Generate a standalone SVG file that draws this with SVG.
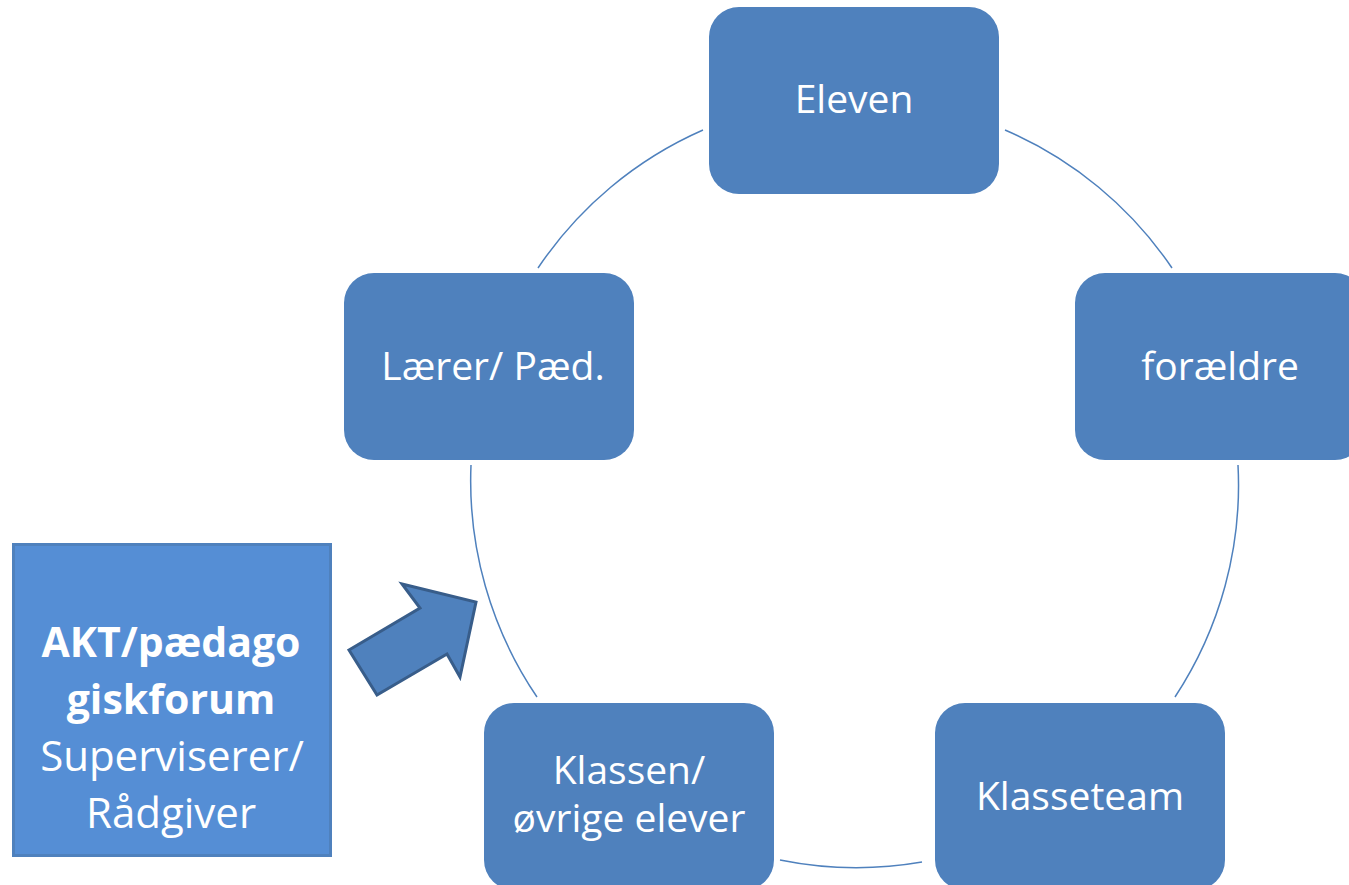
<svg xmlns="http://www.w3.org/2000/svg" width="1349" height="885" viewBox="0 0 1349 885">
<defs>
<style>
.node rect{fill:#4f81bd;}
.lbl{font-family:"Open Sans","Liberation Sans",sans-serif;font-size:39px;fill:#ffffff;text-anchor:middle;}
.arc{fill:none;stroke:#4f81bd;stroke-width:1.5;}
.akt{font-family:"Open Sans","Liberation Sans",sans-serif;font-size:42px;fill:#ffffff;text-anchor:middle;}
.aktb{font-size:41px;font-weight:bold;}
</style>
</defs>
<rect width="1349" height="885" fill="#ffffff"/>
<g id="connectors">
<path class="arc" d="M538,268 A385,385 0 0 1 703,130"/>
<path class="arc" d="M1005,130 A385,385 0 0 1 1172,268"/>
<path class="arc" d="M1238,465 A385,385 0 0 1 1175,697"/>
<path class="arc" d="M922,862 A385,385 0 0 1 780,860"/>
<path class="arc" d="M537,697 A385,385 0 0 1 471,465"/>
</g>
<g id="node-eleven" class="node">
<rect x="709" y="7" width="290" height="187" rx="30"/>
<text class="lbl" x="854" y="113">Eleven</text>
</g>
<g id="node-laerer" class="node">
<rect x="344" y="273" width="290" height="187" rx="30"/>
<text class="lbl" x="493" y="380">Lærer/ Pæd.</text>
</g>
<g id="node-foraeldre" class="node">
<rect x="1075" y="273" width="290" height="187" rx="30"/>
<text class="lbl" x="1220" y="380">forældre</text>
</g>
<g id="node-klasseteam" class="node">
<rect x="935" y="703" width="290" height="187" rx="30"/>
<text class="lbl" x="1080" y="810">Klasseteam</text>
</g>
<g id="node-klassen" class="node">
<rect x="484" y="703" width="290" height="187" rx="30"/>
<text class="lbl" x="629" y="784">Klassen/</text>
<text class="lbl" x="629" y="832">øvrige elever</text>
</g>
<g id="node-akt">
<rect x="13.5" y="544.5" width="317" height="311" fill="#558ed5" stroke="#4f81bd" stroke-width="3"/>
<text class="akt aktb" x="171" y="657">AKT/pædago</text>
<text class="akt aktb" x="171" y="714">giskforum</text>
<text class="akt" x="172" y="771">Superviserer/</text>
<text class="akt" x="171" y="828">Rådgiver</text>
</g>
<g id="arrow">
<polygon points="349,650 420,608 402,584 476,602 460,677 447,654 377,695" fill="#4f81bd" stroke="#385d8a" stroke-width="3" stroke-linejoin="miter"/>
</g>
</svg>
